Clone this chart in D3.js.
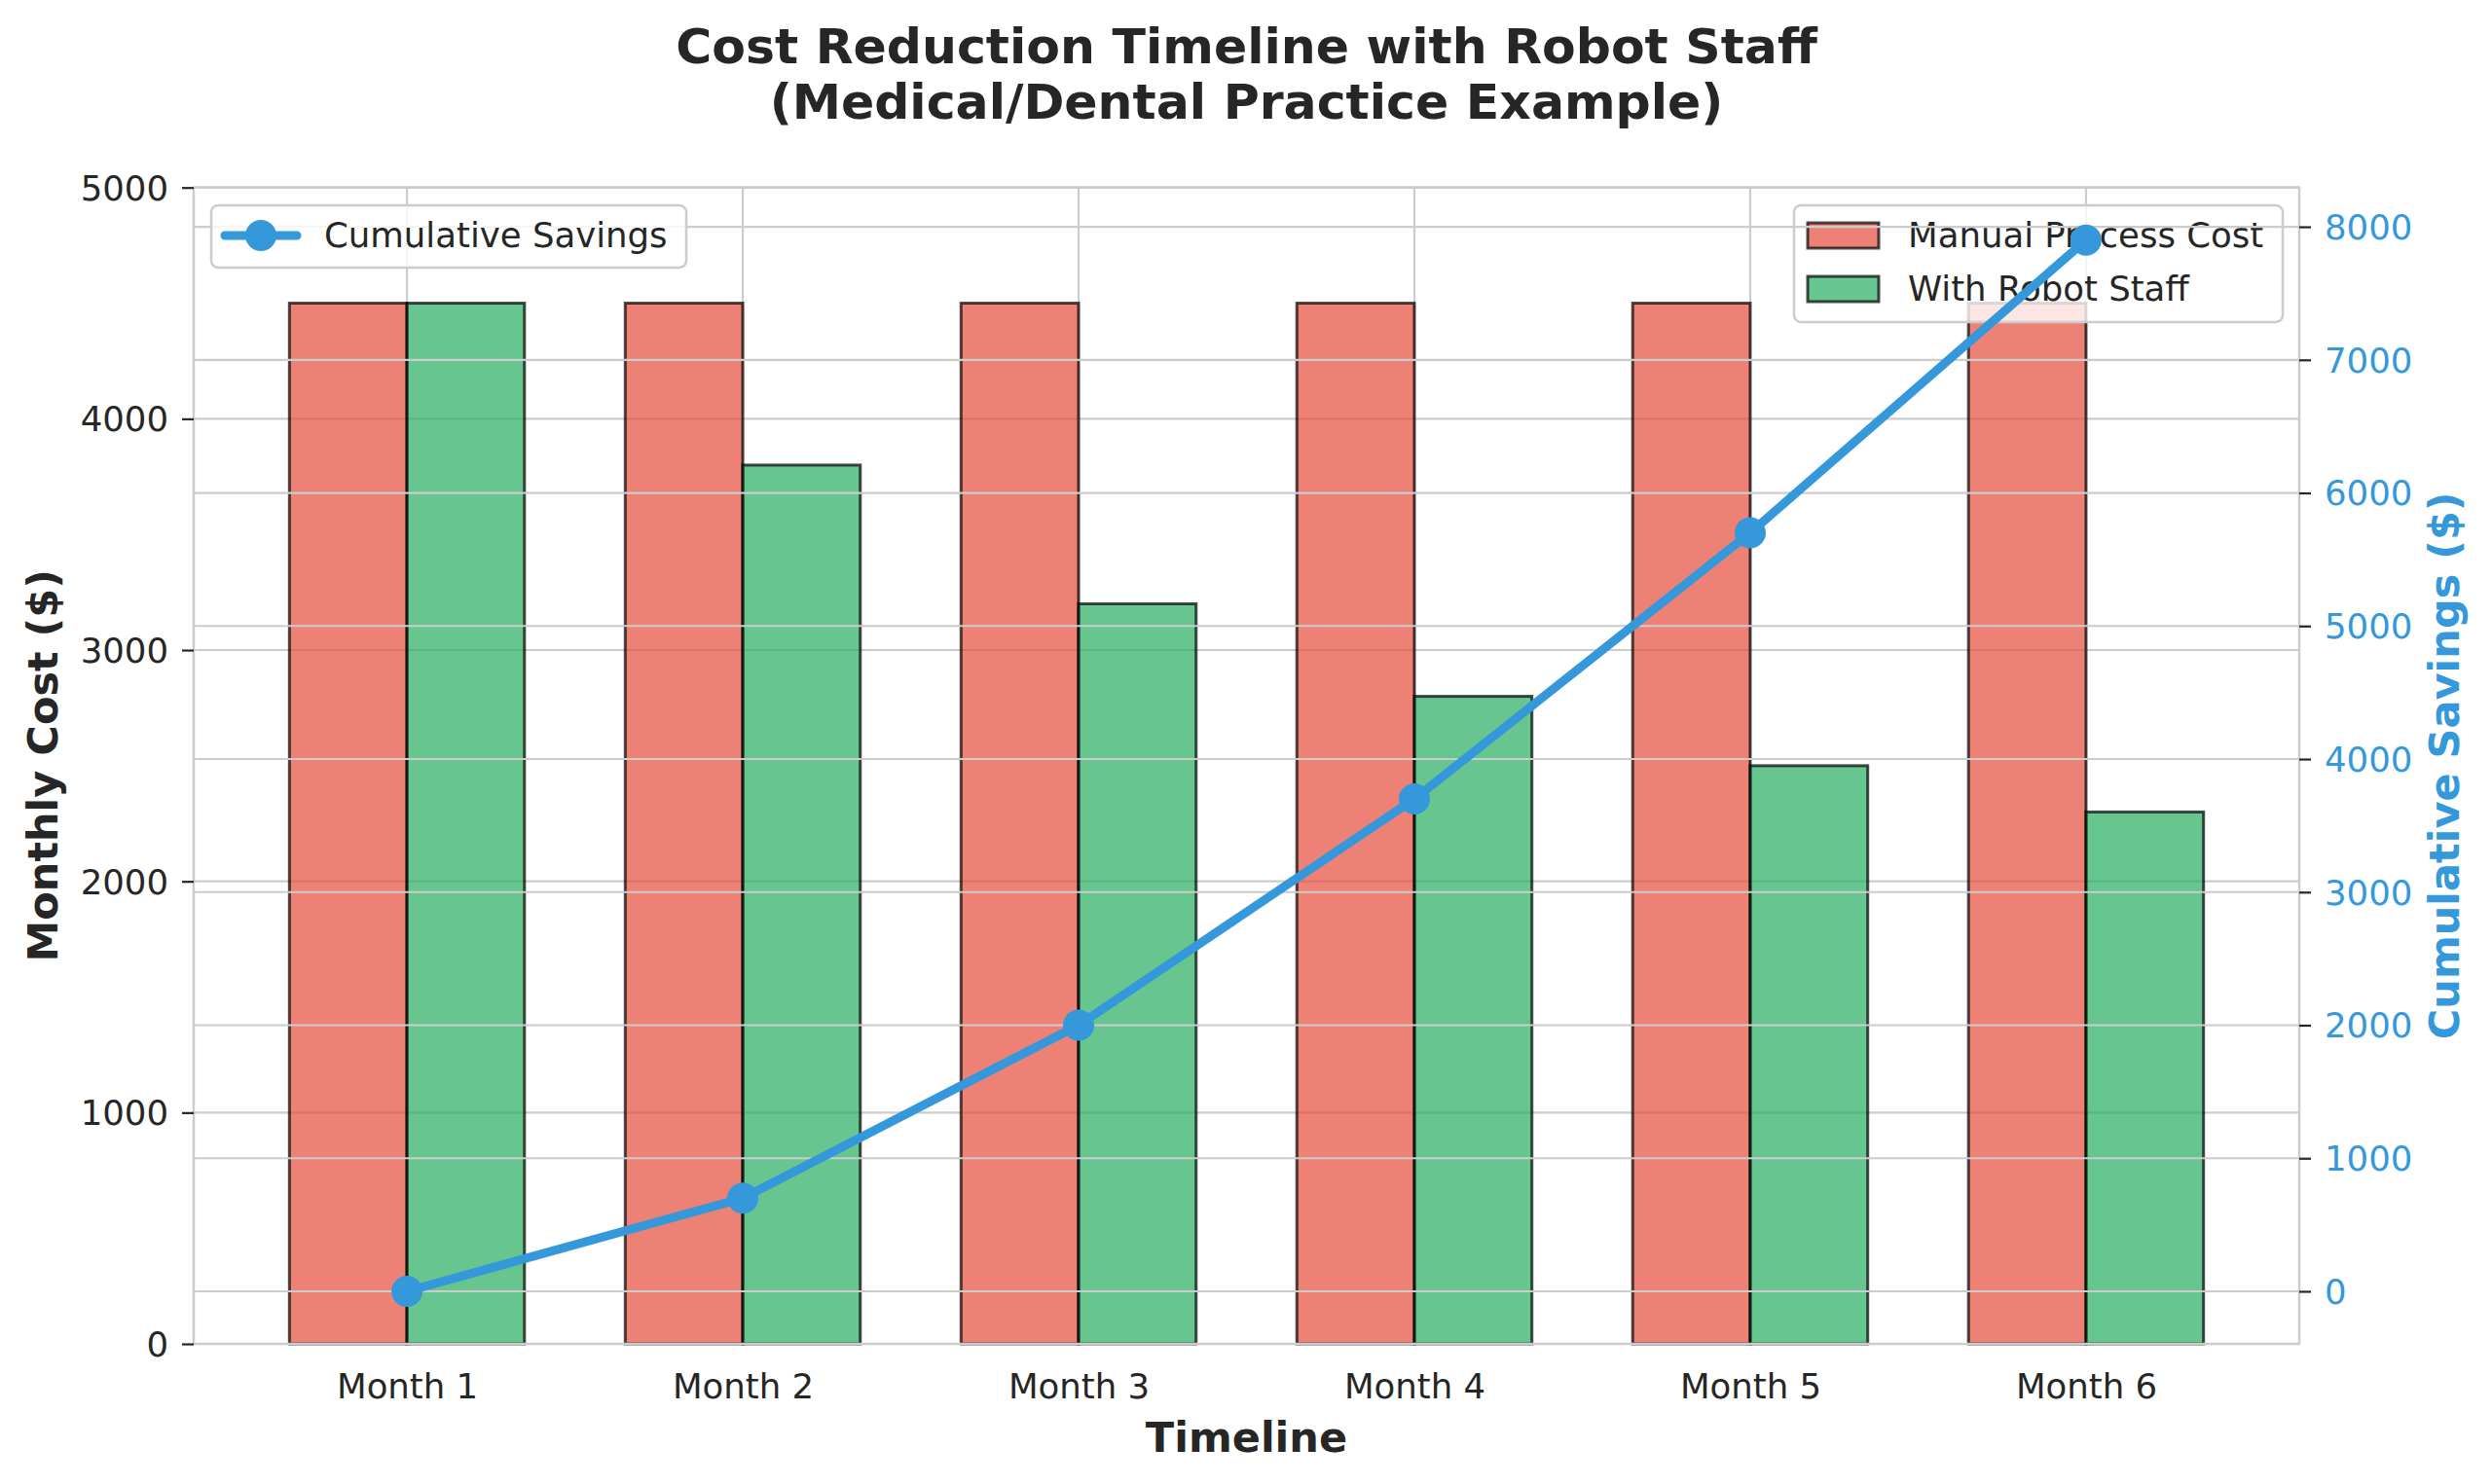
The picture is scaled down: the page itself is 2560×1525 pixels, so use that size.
<!DOCTYPE html>
<html>
<head>
<meta charset="utf-8">
<script src="https://cdn.jsdelivr.net/npm/d3@7"></script>
<style>
  html, body { margin: 0; padding: 0; background: #ffffff; }
  svg { display: block; }
  text { font-family: "DejaVu Sans", sans-serif; }
</style>
</head>
<body>
<div id="chart"></div>
<script>
// ---- data ----
const months = ["Month 1", "Month 2", "Month 3", "Month 4", "Month 5", "Month 6"];
const manualCost = [4500, 4500, 4500, 4500, 4500, 4500];
const robotCost = [4500, 3800, 3200, 2800, 2500, 2300];
const cumulativeSavings = [0, 700, 2000, 3700, 5700, 7900];
const leftTicks = [0, 1000, 2000, 3000, 4000, 5000];
const rightTicks = [0, 1000, 2000, 3000, 4000, 5000, 6000, 7000, 8000];
const titleLines = ["Cost Reduction Timeline with Robot Staff", "(Medical/Dental Practice Example)"];

// ---- layout ----
const W = 2560, H = 1525;
const plot = { left: 199, right: 2362, top: 192.7, bottom: 1381 };
const barW = 0.35;
const textColor = "#262626";
const gridColor = "#cccccc";
const red = "#e74c3c", green = "#27ae60", blue = "#3498db";

const svg = d3.select("#chart").append("svg").attr("width", W).attr("height", H);
svg.append("rect").attr("width", W).attr("height", H).attr("fill", "#ffffff");

const n = months.length;
const xPad = (n - 1 + 2 * barW) * 0.05;
const x = d3.scaleLinear().domain([-barW - xPad, n - 1 + barW + xPad]).range([plot.left, plot.right]);
const yL = d3.scaleLinear().domain([0, 5000]).range([plot.bottom, plot.top]);
const sMax = d3.max(cumulativeSavings), sMin = d3.min(cumulativeSavings);
const sPad = (sMax - sMin) * 0.05;
const yR = d3.scaleLinear().domain([sMin - sPad, sMax + sPad]).range([plot.bottom, plot.top]);

// ---- left-axis grid (behind bars) ----
const gGrid = svg.append("g");
gGrid.selectAll("line.h").data(leftTicks).join("line")
  .attr("x1", plot.left).attr("x2", plot.right)
  .attr("y1", d => yL(d)).attr("y2", d => yL(d))
  .attr("stroke", gridColor).attr("stroke-width", 2.2);
gGrid.selectAll("line.v").data(months.map((m, i) => i)).join("line")
  .attr("x1", d => x(d)).attr("x2", d => x(d))
  .attr("y1", plot.top).attr("y2", plot.bottom)
  .attr("stroke", gridColor).attr("stroke-width", 2.2);

// ---- bars ----
const bw = x(barW) - x(0);
const gBars = svg.append("g");
gBars.selectAll("rect.manual").data(manualCost).join("rect")
  .attr("x", (d, i) => x(i - barW))
  .attr("y", d => yL(d)).attr("width", bw).attr("height", d => yL(0) - yL(d))
  .attr("fill", red).attr("fill-opacity", 0.7)
  .attr("stroke", "#000").attr("stroke-opacity", 0.7).attr("stroke-width", 3);
gBars.selectAll("rect.robot").data(robotCost).join("rect")
  .attr("x", (d, i) => x(i))
  .attr("y", d => yL(d)).attr("width", bw).attr("height", d => yL(0) - yL(d))
  .attr("fill", green).attr("fill-opacity", 0.7)
  .attr("stroke", "#000").attr("stroke-opacity", 0.7).attr("stroke-width", 3);

// ---- spines ----
svg.append("rect")
  .attr("x", plot.left).attr("y", plot.top)
  .attr("width", plot.right - plot.left).attr("height", plot.bottom - plot.top)
  .attr("fill", "none").attr("stroke", gridColor).attr("stroke-width", 2.5);

// ---- left axis ----
const axL = svg.append("g").attr("transform", `translate(${plot.left},0)`)
  .call(d3.axisLeft(yL).tickValues(leftTicks).tickFormat(d3.format("d")).tickSize(12).tickPadding(14));
axL.select(".domain").remove();
axL.selectAll(".tick line").attr("stroke", textColor).attr("stroke-width", 2.2);
axL.selectAll(".tick text").attr("fill", textColor).style("font-size", "35.5px").attr("dy", "0.35em");

// ---- x axis ----
const axX = svg.append("g").attr("transform", `translate(0,${plot.bottom})`)
  .call(d3.axisBottom(x).tickValues(months.map((m, i) => i)).tickFormat(i => months[i]).tickSize(0).tickPadding(31));
axX.select(".domain").remove();
axX.selectAll(".tick text").attr("fill", textColor).style("font-size", "35.5px");

// ---- bar legend (upper right, in primary axes) ----
const lg1 = svg.append("g");
lg1.append("rect").attr("x", 1843).attr("y", 211).attr("width", 502).attr("height", 120)
  .attr("rx", 7).attr("fill", "#ffffff").attr("fill-opacity", 0.8)
  .attr("stroke", gridColor).attr("stroke-width", 2.5);
const barLegend = [
  { label: "Manual Process Cost", color: red, cy: 242 },
  { label: "With Robot Staff", color: green, cy: 297 }
];
barLegend.forEach(e => {
  lg1.append("rect").attr("x", 1857).attr("y", e.cy - 13).attr("width", 73).attr("height", 26)
    .attr("fill", e.color).attr("fill-opacity", 0.7)
    .attr("stroke", "#000").attr("stroke-opacity", 0.7).attr("stroke-width", 3);
  lg1.append("text").attr("x", 1960).attr("y", e.cy).attr("dy", "0.35em")
    .attr("fill", textColor).style("font-size", "35.5px").text(e.label);
});

// ---- right axis grid (drawn above bars) ----
svg.append("g").selectAll("line").data(rightTicks).join("line")
  .attr("x1", plot.left).attr("x2", plot.right)
  .attr("y1", d => yR(d)).attr("y2", d => yR(d))
  .attr("stroke", gridColor).attr("stroke-width", 2.2);

// ---- cumulative savings line ----
const line = d3.line().x((d, i) => x(i)).y(d => yR(d));
svg.append("path").datum(cumulativeSavings).attr("d", line)
  .attr("fill", "none").attr("stroke", blue).attr("stroke-width", 9)
  .attr("stroke-linejoin", "round").attr("stroke-linecap", "round");
svg.append("g").selectAll("circle").data(cumulativeSavings).join("circle")
  .attr("cx", (d, i) => x(i)).attr("cy", d => yR(d)).attr("r", 16).attr("fill", blue);

// ---- right axis ----
const axR = svg.append("g").attr("transform", `translate(${plot.right},0)`)
  .call(d3.axisRight(yR).tickValues(rightTicks).tickFormat(d3.format("d")).tickSize(12).tickPadding(14));
axR.select(".domain").remove();
axR.selectAll(".tick line").attr("stroke", textColor).attr("stroke-width", 2.2);
axR.selectAll(".tick text").attr("fill", blue).style("font-size", "35.5px").attr("dy", "0.35em");

// ---- line legend (upper left, secondary axes) ----
const lg2 = svg.append("g");
lg2.append("rect").attr("x", 217).attr("y", 211).attr("width", 488).attr("height", 64)
  .attr("rx", 7).attr("fill", "#ffffff").attr("fill-opacity", 0.8)
  .attr("stroke", gridColor).attr("stroke-width", 2.5);
lg2.append("line").attr("x1", 231).attr("x2", 305).attr("y1", 242).attr("y2", 242)
  .attr("stroke", blue).attr("stroke-width", 9).attr("stroke-linecap", "round");
lg2.append("circle").attr("cx", 268).attr("cy", 242).attr("r", 16).attr("fill", blue);
lg2.append("text").attr("x", 333).attr("y", 242).attr("dy", "0.35em")
  .attr("fill", textColor).style("font-size", "35.5px").text("Cumulative Savings");

// ---- titles & labels ----
const cx = (plot.left + plot.right) / 2;
svg.append("g").selectAll("text").data(titleLines).join("text")
  .attr("x", cx).attr("y", (d, i) => 65 + i * 57)
  .attr("text-anchor", "middle").attr("fill", textColor)
  .style("font-size", "50.5px").style("font-weight", "bold").text(d => d);

svg.append("text").attr("x", cx).attr("y", 1492).attr("text-anchor", "middle")
  .attr("fill", textColor).style("font-size", "43px").style("font-weight", "bold").text("Timeline");

const cy = (plot.top + plot.bottom) / 2;
svg.append("text").attr("transform", `translate(58.5,${cy}) rotate(-90)`).attr("text-anchor", "middle")
  .attr("fill", textColor).style("font-size", "43px").style("font-weight", "bold").text("Monthly Cost ($)");
svg.append("text").attr("transform", `translate(2526,${cy}) rotate(-90)`).attr("text-anchor", "middle")
  .attr("fill", blue).style("font-size", "43px").style("font-weight", "bold").text("Cumulative Savings ($)");
</script>
</body>
</html>
